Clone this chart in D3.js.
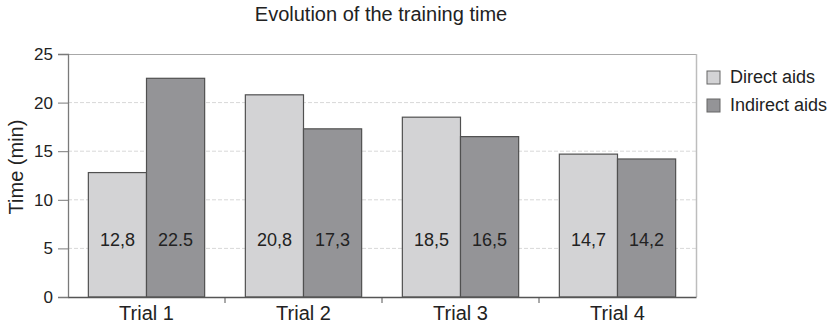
<!DOCTYPE html>
<html>
<head>
<meta charset="utf-8">
<script src="https://cdn.jsdelivr.net/npm/d3@7"></script>
<style>
  html, body { margin: 0; padding: 0; background: #fff; }
  svg { display: block; font-family: "Liberation Sans", Arial, sans-serif; }
</style>
</head>
<body>
<svg id="chart" width="836" height="323"></svg>
<script>
// Training time per trial, in minutes
const categories = ["Trial 1", "Trial 2", "Trial 3", "Trial 4"];
const seriesNames = ["Direct aids", "Indirect aids"];
const directAids = [12.8, 20.8, 18.5, 14.7];
const indirectAids = [22.5, 17.3, 16.5, 14.2];
const valueLabels = [
  ["12,8", "20,8", "18,5", "14,7"],
  ["22.5", "17,3", "16,5", "14,2"]
];
const yTicks = [0, 5, 10, 15, 20, 25];
const seriesColors = ["#d3d3d5", "#949497"];

const FONT = "Liberation Sans, Arial, sans-serif";
const svg = d3.select("#chart");
const margin = { left: 68, right: 836 - 696, top: 54, bottom: 323 - 297 };
const width = 836 - margin.left - margin.right;
const height = 323 - margin.top - margin.bottom;

const g = svg.append("g").attr("transform", `translate(${margin.left},${margin.top})`);

const x = d3.scaleBand().domain(categories).range([0, width]).paddingInner(0).paddingOuter(0);
const x1 = d3.scaleBand().domain(seriesNames).range([0, x.bandwidth()]).paddingOuter(0.35).paddingInner(0);
const y = d3.scaleLinear().domain([0, 25]).range([height, 0]);

// Dashed horizontal gridlines
g.append("g")
  .selectAll("line")
  .data(yTicks.filter(t => t > 0 && t < 25))
  .join("line")
  .attr("x1", 0).attr("x2", width)
  .attr("y1", d => y(d)).attr("y2", d => y(d))
  .attr("stroke", "#d8d8d8")
  .attr("stroke-dasharray", "4,2")
  .attr("stroke-width", 1);

// Plot frame (top and right)
g.append("line").attr("x1", 0).attr("x2", width).attr("y1", 0.5).attr("y2", 0.5)
  .attr("stroke", "#a8a8a8").attr("stroke-width", 1.2);
g.append("line").attr("x1", width + 0.5).attr("x2", width + 0.5).attr("y1", 0).attr("y2", height)
  .attr("stroke", "#bdbdbd").attr("stroke-width", 1.5);

// Bars
const series = [directAids, indirectAids];
const groups = g.append("g").selectAll("g")
  .data(categories)
  .join("g")
  .attr("transform", d => `translate(${x(d)},0)`);

groups.selectAll("rect")
  .data((c, i) => seriesNames.map((s, k) => ({ s, k, v: series[k][i] })))
  .join("rect")
  .attr("x", d => x1(d.s))
  .attr("y", d => y(d.v))
  .attr("width", x1.bandwidth())
  .attr("height", d => y(0) - y(d.v))
  .attr("fill", d => seriesColors[d.k])
  .attr("stroke", "#505050")
  .attr("stroke-width", 1.2);

groups.selectAll("text")
  .data((c, i) => seriesNames.map((s, k) => ({ s, k, label: valueLabels[k][i] })))
  .join("text")
  .attr("x", d => x1(d.s) + x1.bandwidth() / 2)
  .attr("y", 246 - margin.top)
  .attr("text-anchor", "middle")
  .attr("font-size", 18)
  .attr("fill", "#222")
  .text(d => d.label);

// Y axis
const yAxis = g.append("g")
  .call(d3.axisLeft(y).tickValues(yTicks).tickSize(10).tickPadding(5).tickFormat(d3.format("d")));
yAxis.select(".domain").attr("stroke", "#7a7a7a").attr("stroke-width", 1.3);
yAxis.selectAll(".tick line").attr("stroke", "#7a7a7a");
yAxis.selectAll(".tick text").attr("font-size", 17).attr("fill", "#222")
  .attr("font-family", FONT);

// X axis with separators between trials
const xAxis = g.append("g").attr("transform", `translate(0,${height})`)
  .call(d3.axisBottom(x).tickSize(0).tickPadding(0));
xAxis.select(".domain").attr("stroke", "#555").attr("stroke-width", 1.3);
xAxis.selectAll(".tick text").attr("font-size", 20).attr("fill", "#222")
  .attr("font-family", FONT)
  .attr("y", 320 - 297)
  .attr("dy", null);
xAxis.append("g").selectAll("line")
  .data(categories.slice(1))
  .join("line")
  .attr("x1", d => x(d)).attr("x2", d => x(d))
  .attr("y1", 0).attr("y2", 6)
  .attr("stroke", "#555");

// Y axis title
svg.append("text")
  .attr("transform", `translate(23,167) rotate(-90)`)
  .attr("text-anchor", "middle")
  .attr("font-size", 20)
  .attr("fill", "#222")
  .text("Time (min)");

// Chart title
svg.append("text")
  .attr("x", 381)
  .attr("y", 21)
  .attr("text-anchor", "middle")
  .attr("font-size", 20)
  .attr("fill", "#222")
  .text("Evolution of the training time");

// Legend
const legend = svg.append("g").attr("transform", "translate(707,71)");
const items = legend.selectAll("g").data(seriesNames).join("g")
  .attr("transform", (d, i) => `translate(0,${i * 28})`);
items.append("rect")
  .attr("width", 13).attr("height", 13)
  .attr("fill", (d, i) => seriesColors[i])
  .attr("stroke", "#666").attr("stroke-width", 1);
items.append("text")
  .attr("x", 23).attr("y", 12)
  .attr("font-size", 18)
  .attr("fill", "#222")
  .text(d => d);
</script>
</body>
</html>
